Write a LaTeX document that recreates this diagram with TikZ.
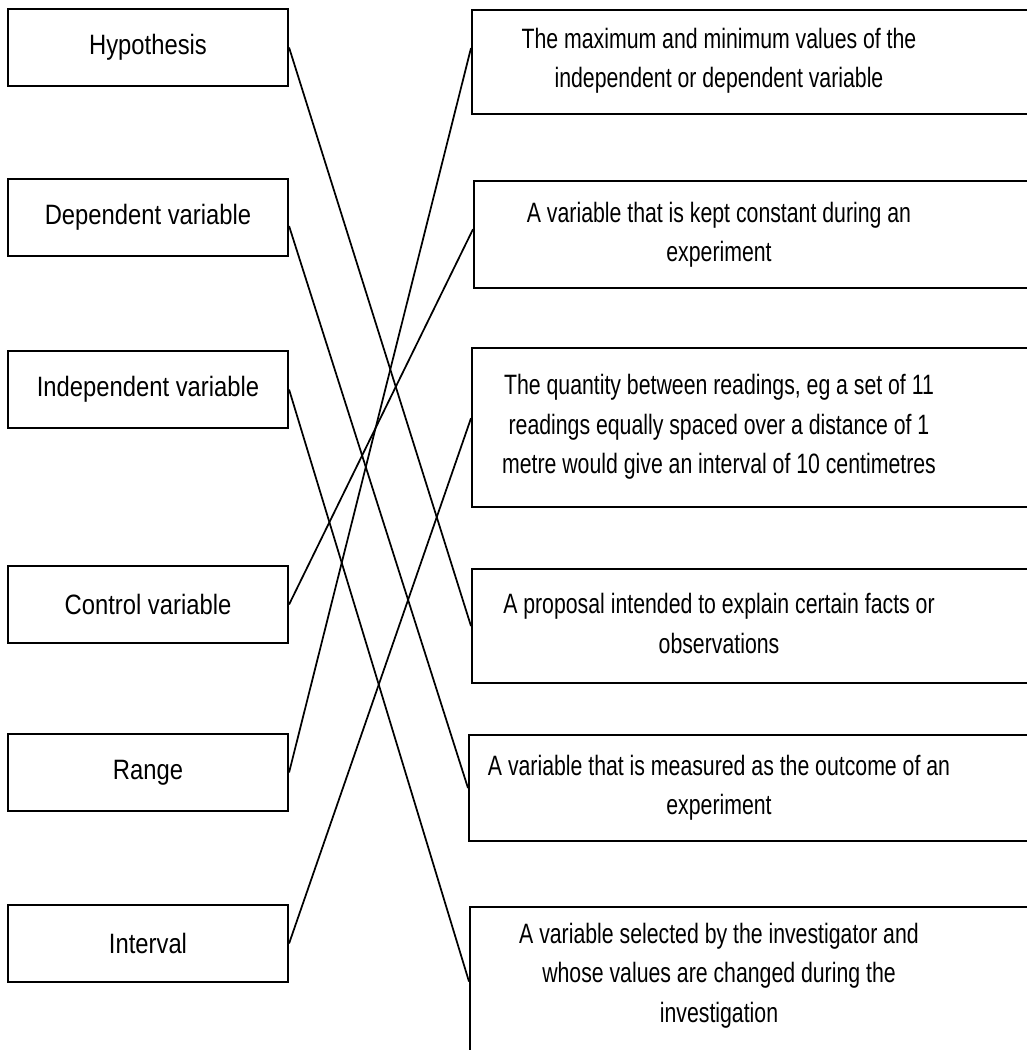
\documentclass[tikz,border=0pt]{standalone}
\usepackage{fontspec}
\setmainfont{Liberation Sans}
\newfontfamily\termfont[FakeStretch=0.85]{Liberation Sans}
\newfontfamily\deffont[FakeStretch=0.76]{Liberation Sans}
\begin{document}
\begin{tikzpicture}[x=0.75pt,y=-0.75pt,
  term/.style={draw,line width=1.6pt,minimum width=280*0.75pt,minimum height=77*0.75pt,inner sep=0pt,font=\termfont\fontsize{21pt}{29.5pt}\selectfont},
  frame/.style={draw,line width=1.6pt,anchor=north west,inner sep=0pt},
  defn/.style={text width=540*0.75pt,align=center,inner sep=0pt,font=\deffont\fontsize{21pt}{29.5pt}\selectfont},
  link/.style={line width=1.3pt}]
\useasboundingbox(0,0)rectangle(1027,1050);
\clip(0,0)rectangle(1027,1050);
% terms on the left
\foreach \n/\w/\y in {hyp/Hypothesis/47.5,dep/Dependent variable/217.5,ind/Independent variable/389.5,con/Control variable/604.5,ran/Range/772.5,int/Interval/943.5}
  \node[term](\n)at(148,\y){\w};
% meanings on the right, cut off by the page edge
\foreach \n/\x/\ya/\yb/\y/\v in {
  ran/471/9/113/61/{The maximum and minimum values of the\\independent or dependent variable},
  con/473/180/287/234.5/{A variable that is kept constant during an\\experiment},
  int/471/347/506/427/{The quantity between readings, eg a set of 11\\readings equally spaced over a distance of 1\\metre would give an interval of 10 centimetres},
  hyp/471/568/682/623.5/{A proposal intended to explain certain facts or\\observations},
  dep/468/734/840/787.5/{A variable that is measured as the outcome of an\\experiment},
  ind/469/906/1055/975.5/{A variable selected by the investigator and\\whose values are changed during the\\investigation}}{
  \node[frame,minimum width=(1040-\x)*0.75pt,minimum height=(\yb-\ya)*0.75pt](f\n)at(\x,\ya){};
  \node[defn](t\n)at(719,\y){\spaceskip=4.4pt\relax\v};
}
% matching lines
\foreach \a/\s/\e in {hyp/0/0,dep/-6.4/0,ind/0/0,con/0/4,ran/0/10.5,int/0/7}
  \draw[link]([yshift=\s pt]\a.east)--([yshift=\e pt]f\a.west);
\end{tikzpicture}
\end{document}
